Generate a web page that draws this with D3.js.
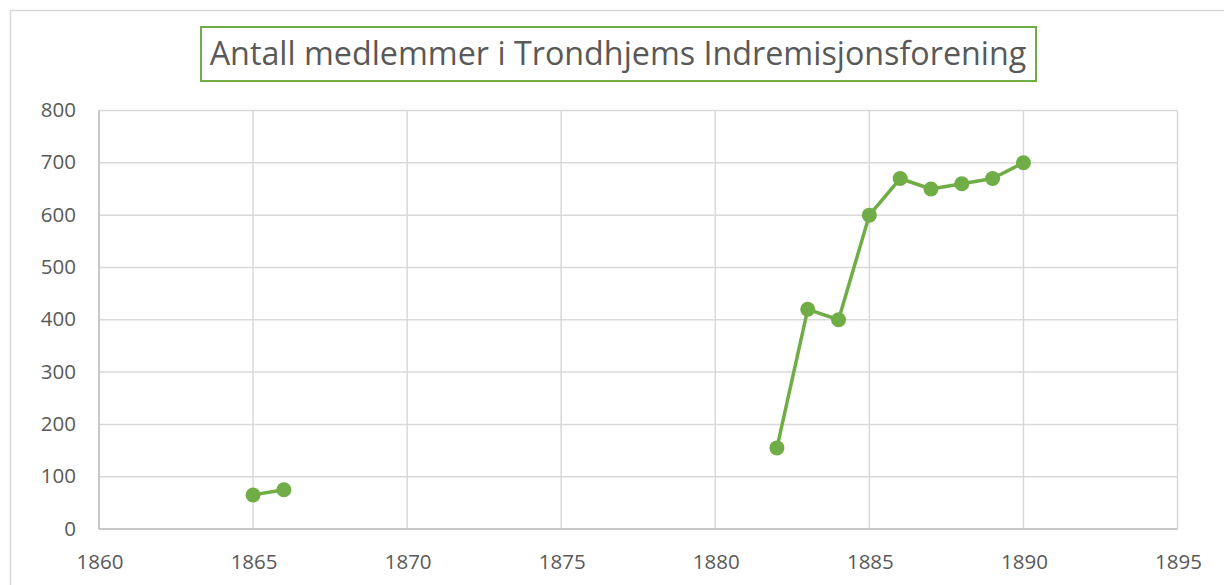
<!DOCTYPE html>
<html>
<head>
<meta charset="utf-8">
<script src="https://cdn.jsdelivr.net/npm/d3@7"></script>
<style>
  body { margin: 0; background: #fff; }
  svg { display: block; }
</style>
</head>
<body>
<div id="chart"></div>
<script>
const titleText = "Antall medlemmer i Trondhjems Indremisjonsforening"
const years = [1865, 1866, 1882, 1883, 1884, 1885, 1886, 1887, 1888, 1889, 1890]
const members = [65, 75, 155, 420, 400, 600, 670, 650, 660, 670, 700]
// gap between 1866 and 1882 (no data)
const segments = [[0, 2], [2, 11]]
const xTicks = [1860, 1865, 1870, 1875, 1880, 1885, 1890, 1895]
const yTicks = [0, 100, 200, 300, 400, 500, 600, 700, 800]

const W = 1224, H = 585
const green = "#70ad47"

const svg = d3.select("#chart").append("svg")
  .attr("width", W)
  .attr("height", H)

// outer chart border
svg.append("rect")
  .attr("x", 10.5).attr("y", 10.5)
  .attr("width", W + 10).attr("height", H + 10)
  .attr("fill", "none")
  .attr("stroke", "#d9d9d9")
  .attr("stroke-width", 1.5)

const x = d3.scaleLinear().domain([1860, 1895]).range([99, 1177.5])
const y = d3.scaleLinear().domain([0, 800]).range([529, 110.5])

const g = svg.append("g")

// gridlines
g.selectAll(".hgrid").data(yTicks).enter().append("line")
  .attr("x1", x(1860)).attr("x2", x(1895))
  .attr("y1", d => y(d)).attr("y2", d => y(d))
  .attr("stroke", "#d9d9d9").attr("stroke-width", 1.5)

g.selectAll(".vgrid").data(xTicks).enter().append("line")
  .attr("x1", d => x(d)).attr("x2", d => x(d))
  .attr("y1", y(0)).attr("y2", y(800))
  .attr("stroke", "#d9d9d9").attr("stroke-width", 1.5)

// axis lines
g.append("line")
  .attr("x1", x(1860)).attr("x2", x(1895))
  .attr("y1", y(0)).attr("y2", y(0))
  .attr("stroke", "#bfbfbf").attr("stroke-width", 1.5)
g.append("line")
  .attr("x1", x(1860)).attr("x2", x(1860))
  .attr("y1", y(0)).attr("y2", y(800))
  .attr("stroke", "#bfbfbf").attr("stroke-width", 1.5)

// tick labels
g.selectAll(".ylab").data(yTicks).enter().append("text")
  .attr("x", 76).attr("y", d => y(d) + 6.5)
  .attr("text-anchor", "end")
  .attr("font-family", "Open Sans, sans-serif")
  .attr("font-size", 20.5)
  .attr("fill", "#595959")
  .text(d => d)

g.selectAll(".xlab").data(xTicks).enter().append("text")
  .attr("x", d => x(d) + 1).attr("y", 568.5)
  .attr("text-anchor", "middle")
  .attr("font-family", "Open Sans, sans-serif")
  .attr("font-size", 20.5)
  .attr("fill", "#595959")
  .text(d => d)

// line segments
const line = d3.line()
  .x(i => x(years[i]))
  .y(i => y(members[i]))

segments.forEach(([a, b]) => {
  g.append("path")
    .datum(d3.range(a, b))
    .attr("d", line)
    .attr("fill", "none")
    .attr("stroke", green)
    .attr("stroke-width", 3.5)
    .attr("stroke-linejoin", "round")
})

g.selectAll(".pt").data(years).enter().append("circle")
  .attr("cx", d => x(d))
  .attr("cy", (d, i) => y(members[i]))
  .attr("r", 7.5)
  .attr("fill", green)

// title with box
const title = svg.append("text")
  .attr("x", 618).attr("y", 65)
  .attr("text-anchor", "middle")
  .attr("font-family", "Open Sans, sans-serif")
  .attr("font-size", 28)
  .attr("fill", "#595959")
  .text(titleText)

// fit the title width to the reference
const tw = title.node().getComputedTextLength()
title.attr("font-size", 28 * 817 / tw)

svg.append("rect")
  .attr("x", 201).attr("y", 27)
  .attr("width", 835).attr("height", 54)
  .attr("fill", "none")
  .attr("stroke", green)
  .attr("stroke-width", 2)
</script>
</body>
</html>
